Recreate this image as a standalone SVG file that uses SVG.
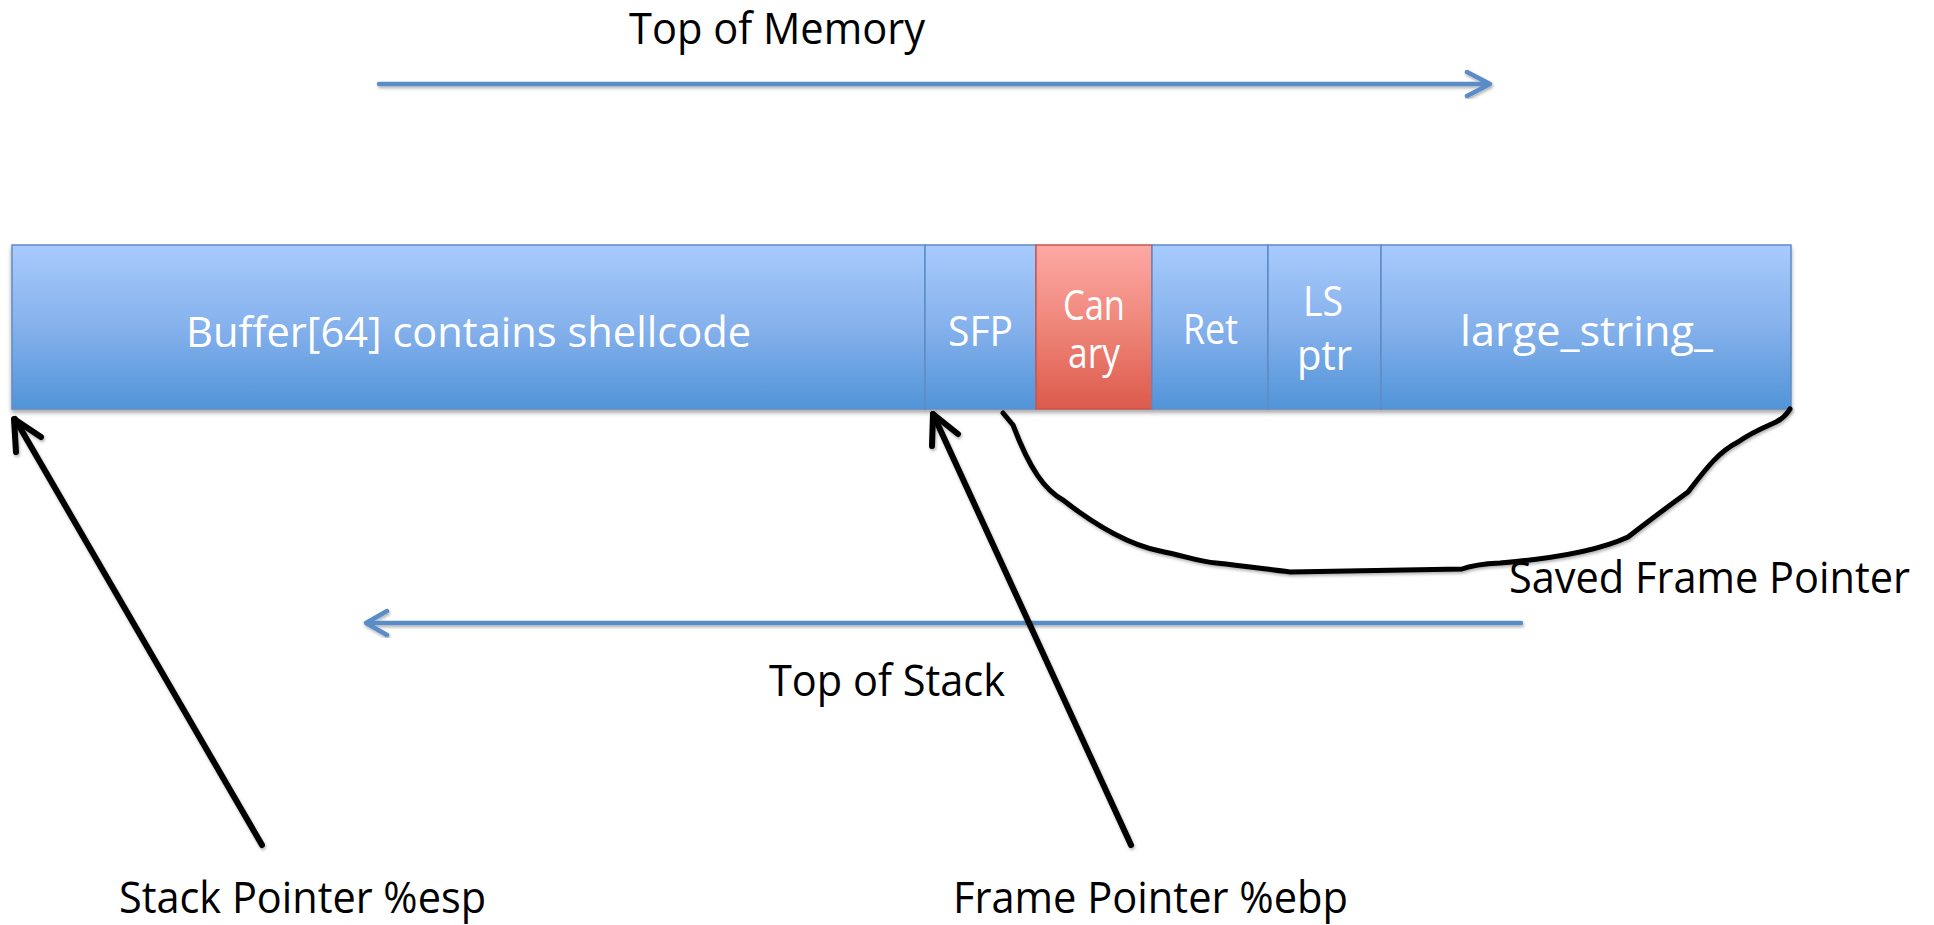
<svg xmlns="http://www.w3.org/2000/svg" width="1934" height="925" viewBox="0 0 1934 925">
<defs>
<linearGradient id="gBlue" x1="0" y1="0" x2="0" y2="1">
<stop offset="0" stop-color="#a8cbfc"/>
<stop offset="0.5" stop-color="#85b1ec"/>
<stop offset="1" stop-color="#5194d8"/>
</linearGradient>
<linearGradient id="gRed" x1="0" y1="0" x2="0" y2="1">
<stop offset="0" stop-color="#fda9a4"/>
<stop offset="0.5" stop-color="#ef8579"/>
<stop offset="1" stop-color="#dc5a4c"/>
</linearGradient>
<filter id="shadow" x="-5%" y="-20%" width="110%" height="150%">
<feDropShadow dx="0" dy="3" stdDeviation="2" flood-color="#000" flood-opacity="0.35"/>
</filter>
<filter id="lshadow" x="-10%" y="-10%" width="120%" height="120%">
<feDropShadow dx="1" dy="2" stdDeviation="1.5" flood-color="#000" flood-opacity="0.3"/>
</filter>
</defs>
<style>
.cell{fill:url(#gBlue);stroke:#5f8cc4;stroke-width:1.5}
.red{fill:url(#gRed);stroke:#c9554f;stroke-width:1.5}
.wt{font-family:"Open Sans","Lato",sans-serif;fill:#ffffff;font-size:42px;text-anchor:start}
.bt{font-family:"Open Sans","Lato",sans-serif;fill:#000000;font-size:43px}
.blue{fill:none;stroke:#5a8dc8;stroke-width:4.5;stroke-linecap:round;stroke-linejoin:round}
.blk{fill:none;stroke:#000;stroke-width:6;stroke-linecap:round;stroke-linejoin:round}
.crv{fill:none;stroke:#000;stroke-width:5;stroke-linecap:round;stroke-linejoin:round}
</style>

<g id="bar" filter="url(#shadow)">
<g id="buffer"><rect class="cell" x="12" y="245" width="913" height="164"/></g>
<g id="sfp"><rect class="cell" x="925" y="245" width="111" height="164"/></g>
<g id="canary"><rect class="red" x="1036" y="245" width="116" height="164"/></g>
<g id="ret"><rect class="cell" x="1152" y="245" width="116" height="164"/></g>
<g id="lsptr"><rect class="cell" x="1268" y="245" width="113" height="164"/></g>
<g id="largestring"><rect class="cell" x="1381" y="245" width="410" height="164"/></g>
</g>

<g id="cell-labels">
<text class="wt" x="186" y="347" font-size="46" textLength="565" lengthAdjust="spacingAndGlyphs">Buffer[64] contains shellcode</text>
<text class="wt" x="948" y="346" textLength="65" lengthAdjust="spacingAndGlyphs">SFP</text>
<text class="wt" font-size="40"><tspan x="1063" y="320" textLength="62" lengthAdjust="spacingAndGlyphs">Can</tspan><tspan x="1068" y="368" textLength="52" lengthAdjust="spacingAndGlyphs">ary</tspan></text>
<text class="wt" x="1183" y="344" textLength="55" lengthAdjust="spacingAndGlyphs">Ret</text>
<text class="wt" font-size="40"><tspan x="1303" y="316" textLength="40" lengthAdjust="spacingAndGlyphs">LS</tspan><tspan x="1297" y="370" textLength="55" lengthAdjust="spacingAndGlyphs">ptr</tspan></text>
<text class="wt" x="1460" y="346" textLength="253" lengthAdjust="spacingAndGlyphs">large_string_</text>
</g>

<g id="connectors">
<g id="top-of-memory-arrow" filter="url(#lshadow)">
<path class="blue" d="M379,84 L1489,84"/>
<path class="blue" d="M1467,72 L1490,84 L1467,96"/>
</g>
<g id="top-of-stack-arrow" filter="url(#lshadow)">
<path class="blue" d="M1521,623 L367,623"/>
<path class="blue" d="M387,611 L366,623 L387,635"/>
</g>
<g id="esp-arrow" filter="url(#lshadow)">
<path class="blk" d="M262,845 L15,419"/>
<path class="blk" d="M16,452 L14,419 L41,437"/>
</g>
<g id="ebp-arrow" filter="url(#lshadow)">
<path class="blk" d="M1131,845 L933,414"/>
<path class="blk" d="M932,446 L933,414 L958,434"/>
</g>
<g id="sfp-curve" filter="url(#lshadow)">
<path class="crv" d="M1003,413 L1013,425 C1030,470 1045,490 1063,500 C1095,525 1130,545 1160,551 C1185,556 1200,562 1216,563 C1245,566 1265,569 1290,572 L1462,569 C1470,566 1480,564 1500,563 C1560,558 1600,550 1628,537 C1650,520 1670,505 1688,492 C1705,470 1718,452 1738,442 C1752,432 1765,427 1776,422 C1784,418 1787,414 1790,409"/>
</g>
</g>

<g id="labels">
<text class="bt" x="629" y="44" textLength="296" lengthAdjust="spacingAndGlyphs">Top of Memory</text>
<text class="bt" x="769" y="696" textLength="236" lengthAdjust="spacingAndGlyphs">Top of Stack</text>
<text class="bt" x="1509" y="593" textLength="401" lengthAdjust="spacingAndGlyphs">Saved Frame Pointer</text>
<text class="bt" x="119" y="913" font-size="41" textLength="367" lengthAdjust="spacingAndGlyphs">Stack Pointer %esp</text>
<text class="bt" x="953" y="913" font-size="41" textLength="395" lengthAdjust="spacingAndGlyphs">Frame Pointer %ebp</text>
</g>
</svg>
